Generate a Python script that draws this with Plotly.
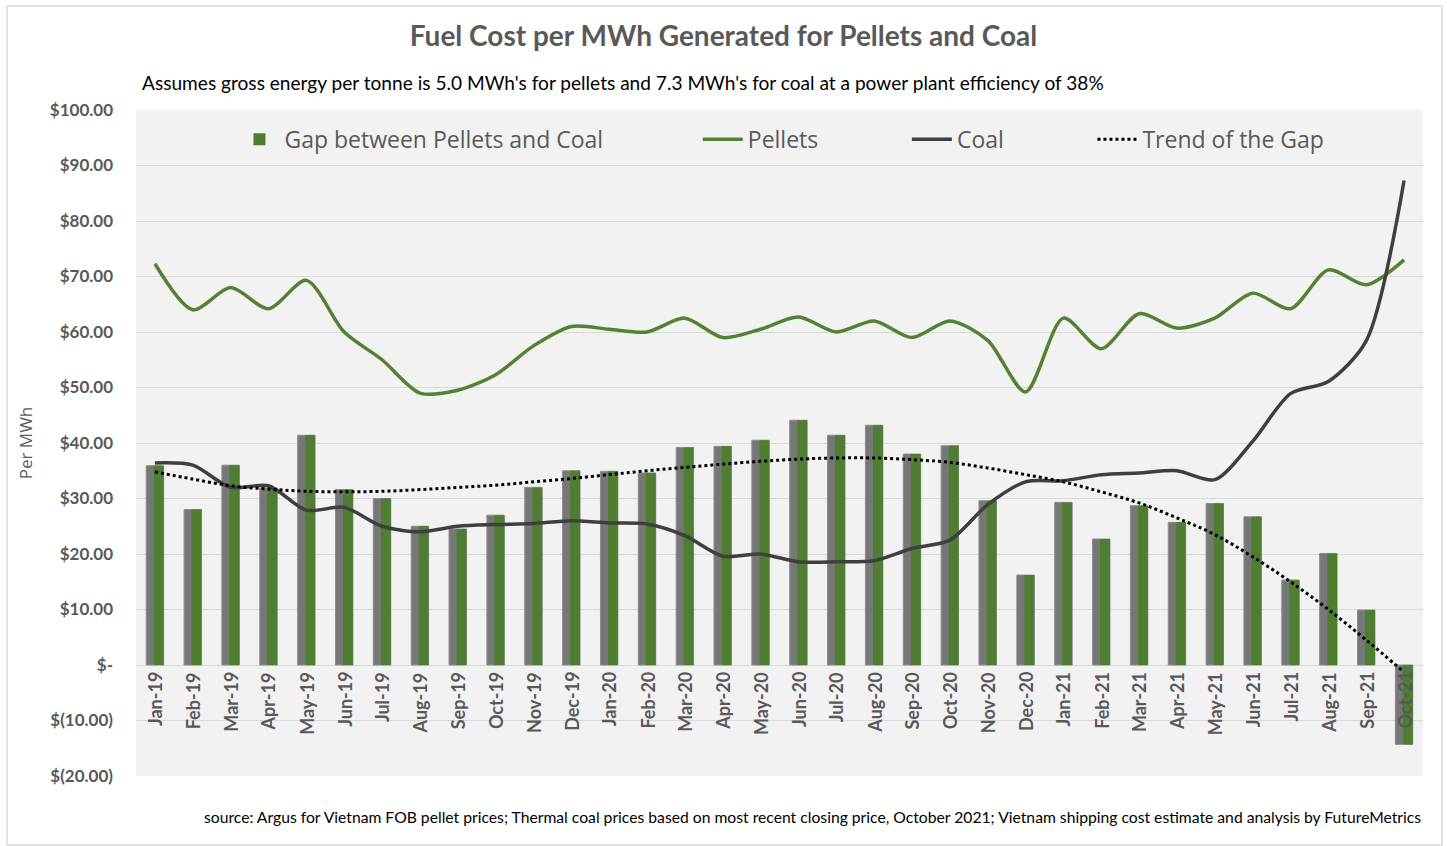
import plotly.graph_objects as go

months = ["Jan-19","Feb-19","Mar-19","Apr-19","May-19","Jun-19","Jul-19","Aug-19","Sep-19","Oct-19","Nov-19","Dec-19",
          "Jan-20","Feb-20","Mar-20","Apr-20","May-20","Jun-20","Jul-20","Aug-20","Sep-20","Oct-20","Nov-20","Dec-20",
          "Jan-21","Feb-21","Mar-21","Apr-21","May-21","Jun-21","Jul-21","Aug-21","Sep-21","Oct-21"]

pellets = [72.3, 64.0, 68.0, 64.2, 69.3, 60.0, 55.0, 49.0, 49.5, 52.3, 57.5, 61.0,
           60.5, 60.0, 62.5, 59.0, 60.5, 62.7, 60.0, 62.0, 59.0, 62.0, 58.5, 49.2,
           62.5, 57.0, 63.3, 60.7, 62.5, 67.0, 64.2, 71.2, 68.5, 73.0]

coal = [36.4, 36.0, 32.0, 32.3, 27.9, 28.4, 25.0, 24.0, 25.0, 25.3, 25.5, 26.0,
        25.6, 25.4, 23.3, 19.6, 20.0, 18.6, 18.6, 18.8, 21.0, 22.5, 28.9, 33.0,
        33.2, 34.3, 34.6, 35.0, 33.4, 40.3, 48.9, 51.1, 58.4, 87.3]

gap = [35.9, 28.0, 36.0, 31.9, 41.4, 31.6, 30.0, 25.0, 24.5, 27.0, 32.0, 35.0,
       34.9, 34.6, 39.2, 39.4, 40.5, 44.1, 41.4, 43.2, 38.0, 39.5, 29.6, 16.2,
       29.3, 22.7, 28.7, 25.7, 29.1, 26.7, 15.3, 20.1, 9.9, -14.3]

trend = [34.8, 33.5, 32.3, 31.7, 31.3, 31.2, 31.3, 31.6, 32.0, 32.4, 33.0, 33.6,
         34.3, 35.0, 35.6, 36.2, 36.7, 37.1, 37.3, 37.3, 37.0, 36.5, 35.5, 34.3,
         33.0, 31.2, 29.2, 26.5, 23.5, 19.5, 15.0, 10.0, 4.5, -1.3]

ytick_vals = [-20, -10, 0, 10, 20, 30, 40, 50, 60, 70, 80, 90, 100]
ytick_text = ["$(20.00)", "$(10.00)", "$-", "$10.00", "$20.00", "$30.00", "$40.00",
              "$50.00", "$60.00", "$70.00", "$80.00", "$90.00", "$100.00"]

GRAY_TXT = "#595959"
NB = "\u00a0"

fig = go.Figure()

# gray body of the gap bars
fig.add_trace(go.Bar(x=months, y=gap, width=0.46, offset=-0.23,
                     marker=dict(color="#777777", line=dict(color="#8c8c8c", width=1)),
                     showlegend=False, hoverinfo="skip"))
# green face of the gap bars
fig.add_trace(go.Bar(x=months, y=gap, width=0.26, offset=-0.03,
                     name="Gap between Pellets and Coal" + NB * 15,
                     marker=dict(color="#4f7d31", line=dict(color="#8c8c8c", width=0))))

fig.add_trace(go.Scatter(x=months, y=pellets, mode="lines", name="Pellets" + NB * 14,
                         line=dict(color="#548235", width=3.5, shape="spline", smoothing=0.8)))
fig.add_trace(go.Scatter(x=months, y=coal, mode="lines", name="Coal" + NB * 14,
                         line=dict(color="#3f3f3f", width=3.5, shape="spline", smoothing=0.8)))
fig.add_trace(go.Scatter(x=months, y=trend, mode="lines", name="Trend of the Gap",
                         line=dict(color="#000000", width=3, dash="dot", shape="spline")))

# x tick labels sitting under the zero line
for m in months:
    fig.add_annotation(x=m, y=0, xref="x", yref="y", text="<b>" + m + "</b>", textangle=-90,
                       showarrow=False, xanchor="center", yanchor="top", yshift=-5,
                       font=dict(family="Lato", size=18, color=GRAY_TXT))

# subtitle
fig.add_annotation(x=0.003, y=1.042, xref="paper", yref="paper", xanchor="left", yanchor="middle",
                   text="Assumes gross energy per tonne is 5.0 MWh's for pellets and 7.3 MWh's for coal at a power plant efficiency of 38%",
                   showarrow=False, font=dict(family="Lato", size=19.1, color="#000000"))
# source
fig.add_annotation(x=1.0, y=-0.0616, xref="paper", yref="paper", xanchor="right", yanchor="middle",
                   text="source: Argus for Vietnam FOB pellet prices; Thermal coal prices based on most recent closing price, October 2021; Vietnam shipping cost estimate and analysis by FutureMetrics",
                   showarrow=False, font=dict(family="Lato", size=15.7, color="#000000"))

# outer chart border
fig.add_shape(type="rect", xref="paper", yref="paper", x0=-0.1002, x1=1.0148, y0=-0.1036, y1=1.156,
              line=dict(color="#d9d9d9", width=1.5), fillcolor="rgba(0,0,0,0)", layer="below")

fig.update_layout(
    width=1447, height=846,
    margin=dict(l=136, r=24, t=110, b=70),
    paper_bgcolor="#ffffff", plot_bgcolor="#f2f2f2",
    barmode="overlay",
    title=dict(text="<b>Fuel Cost per MWh Generated for Pellets and Coal</b>", x=0.5, xref="container",
               y=0.957, yref="container", xanchor="center", yanchor="middle",
               font=dict(family="Lato", size=28, color=GRAY_TXT)),
    legend=dict(orientation="h", x=0.0765, y=0.956, xanchor="left", yanchor="middle",
                bgcolor="rgba(0,0,0,0)", font=dict(family="Open Sans", size=23, color=GRAY_TXT),
                itemwidth=40, traceorder="normal"),
    xaxis=dict(type="category", showticklabels=False, showgrid=False, zeroline=False,
               showline=False, ticks="", range=[-0.5, 33.5]),
    yaxis=dict(range=[-20, 100], tickvals=ytick_vals, ticktext=["<b>" + t + "</b>" for t in ytick_text],
               tickfont=dict(family="Lato", size=17, color=GRAY_TXT), ticklabelstandoff=22,
               showgrid=True, gridcolor="#d9d9d9", gridwidth=1, zeroline=False, showline=False,
               title=dict(text="Per MWh", standoff=12, font=dict(family="Open Sans", size=17, color=GRAY_TXT))),
    font=dict(family="Lato"),
)

fig.write_html("out.html", config={"displayModeBar": False},
               post_script="document.body.style.margin='0px';")
